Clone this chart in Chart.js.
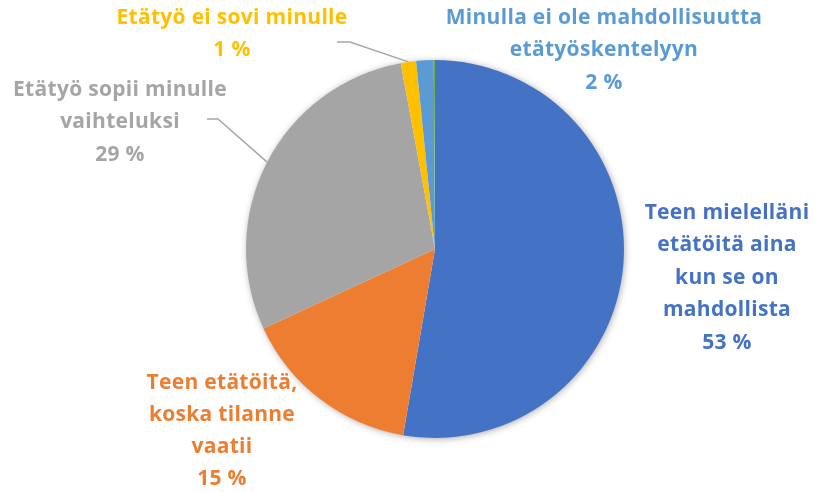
<!DOCTYPE html>
<html>
<head>
<meta charset="utf-8">
<script src="https://cdn.jsdelivr.net/npm/chart.js@4/dist/chart.umd.min.js"></script>
<style>
  html, body { margin: 0; padding: 0; background: #ffffff; }
  #wrap { width: 815px; height: 492px; position: relative; }
</style>
</head>
<body>
<div id="wrap"><canvas id="c" width="815" height="492"></canvas></div>
<script>
// ---- Data ----
const categories = [
  "Teen mielelläni etätöitä aina kun se on mahdollista",
  "Teen etätöitä, koska tilanne vaatii",
  "Etätyö sopii minulle vaihteluksi",
  "Etätyö ei sovi minulle",
  "Minulla ei ole mahdollisuutta etätyöskentelyyn",
  ""
];
const values = [52.7, 15.4, 29.0, 1.3, 1.5, 0.1];
const percentLabels = ["53 %", "15 %", "29 %", "1 %", "2 %", ""];
const labelLines = [
  ["Teen mielelläni", "etätöitä aina", "kun se on", "mahdollista"],
  ["Teen etätöitä,", "koska tilanne", "vaatii"],
  ["Etätyö sopii minulle", "vaihteluksi"],
  ["Etätyö ei sovi minulle"],
  ["Minulla ei ole mahdollisuutta", "etätyöskentelyyn"],
  []
];
const colors = ["#4472C4", "#ED7D31", "#A5A5A5", "#FFC000", "#5B9BD5", "#70AD47"];

// ---- Label layout (offsets from pie centre, px) ----
const labelLayout = [
  { dx: 292, dy: -36, gap: 32.5 },
  { dx: -213, dy: 134, gap: 32 },
  { dx: -315, dy: -159, gap: 32.5, leader: { x1: -228, x2: -217, y: -130 } },
  { dx: -203, dy: -231, gap: 32.5, leader: { x1: -98, x2: -85, y: -207 } },
  { dx: 169, dy: -231, gap: 32.5 },
  null
];

const FONT = "bold 21px 'Open Sans', sans-serif";

const shadowPlugin = {
  id: 'pieShadow',
  beforeDatasetsDraw(chart) {
    const arc = chart.getDatasetMeta(0).data[0];
    if (!arc) return;
    const ctx = chart.ctx;
    ctx.save();
    ctx.shadowColor = 'rgba(0,0,0,0.35)';
    ctx.shadowBlur = 7;
    ctx.shadowOffsetX = 1;
    ctx.shadowOffsetY = 1;
    ctx.fillStyle = '#ffffff';
    ctx.beginPath();
    ctx.arc(arc.x, arc.y, arc.outerRadius - 0.5, 0, Math.PI * 2);
    ctx.fill();
    ctx.restore();
  }
};

const labelPlugin = {
  id: 'pieLabels',
  afterDatasetsDraw(chart) {
    const meta = chart.getDatasetMeta(0);
    const ctx = chart.ctx;
    ctx.save();
    ctx.font = FONT;
    try { ctx.letterSpacing = '0.3px'; } catch (e) {}
    ctx.textAlign = 'center';
    ctx.textBaseline = 'middle';
    meta.data.forEach((arc, i) => {
      const lay = labelLayout[i];
      if (!lay) return;
      const cx = arc.x, cy = arc.y;
      const lines = labelLines[i].concat([percentLabels[i]]);
      ctx.fillStyle = colors[i];
      lines.forEach((t, k) => {
        ctx.fillText(t, cx + lay.dx, cy + lay.dy + k * lay.gap);
      });
      if (lay.leader) {
        const mid = (arc.startAngle + arc.endAngle) / 2;
        const ex = cx + Math.cos(mid) * arc.outerRadius;
        const ey = cy + Math.sin(mid) * arc.outerRadius;
        ctx.strokeStyle = '#A6A6A6';
        ctx.lineWidth = 1.5;
        ctx.beginPath();
        ctx.moveTo(cx + lay.leader.x1, cy + lay.leader.y);
        ctx.lineTo(cx + lay.leader.x2, cy + lay.leader.y);
        ctx.lineTo(ex, ey);
        ctx.stroke();
      }
    });
    ctx.restore();
  }
};

new Chart(document.getElementById('c'), {
  type: 'pie',
  data: {
    labels: categories,
    datasets: [{
      data: values,
      backgroundColor: colors,
      borderWidth: 0
    }]
  },
  options: {
    responsive: false,
    animation: false,
    layout: { padding: { left: 200, right: 145, top: 60, bottom: 54 } },
    plugins: {
      legend: { display: false },
      tooltip: { enabled: false }
    }
  },
  plugins: [shadowPlugin, labelPlugin]
});
</script>
</body>
</html>
